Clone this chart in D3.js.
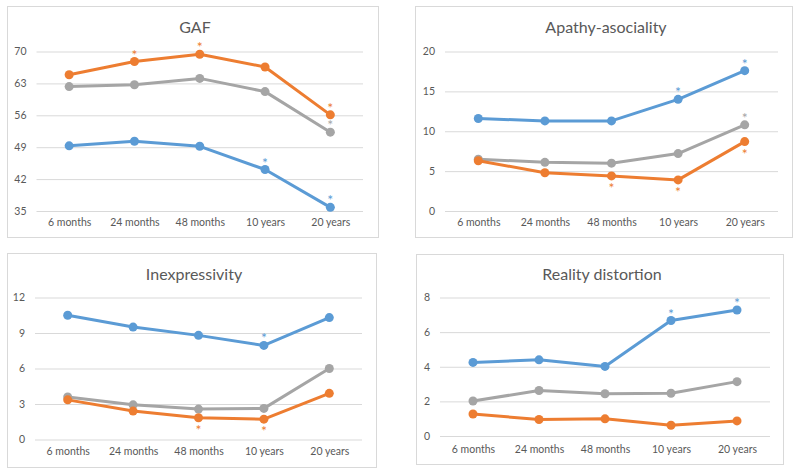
<!DOCTYPE html>
<html>
<head>
<meta charset="utf-8">
<script src="https://cdn.jsdelivr.net/npm/d3@7"></script>
<style>
  html, body { margin: 0; padding: 0; background: #fff; }
  svg { display: block; }
  text { font-family: Lato, "Open Sans", sans-serif; fill: #595959; }
</style>
</head>
<body>
<svg id="chart" width="800" height="475"></svg>
<script>
// ---------- DATA ----------
const categories = ["6 months", "24 months", "48 months", "10 years", "20 years"];

const gafTicks = [35, 42, 49, 56, 63, 70];
const gafBlue   = [49.3, 50.3, 49.2, 44.1, 35.8];
const gafGray   = [62.3, 62.7, 64.1, 61.2, 52.3];
const gafOrange = [64.9, 67.8, 69.4, 66.6, 56.1];
const gafBlueSig   = [0, 0, 0, 1, 1];
const gafGraySig   = [0, 0, 0, 0, 1];
const gafOrangeSig = [0, 1, 1, 0, 1];

const apathyTicks = [0, 5, 10, 15, 20];
const apathyBlue   = [11.6, 11.3, 11.3, 14.0, 17.6];
const apathyGray   = [6.5, 6.1, 6.0, 7.2, 10.8];
const apathyOrange = [6.3, 4.8, 4.4, 3.9, 8.7];
const apathyBlueSig   = [0, 0, 0, 1, 1];
const apathyGraySig   = [0, 0, 0, 0, 1];
const apathyOrangeSig = [0, 0, 1, 1, 1];

const inexTicks = [0, 3, 6, 9, 12];
const inexBlue   = [10.5, 9.5, 8.8, 7.95, 10.3];
const inexGray   = [3.6, 2.93, 2.57, 2.63, 6.0];
const inexOrange = [3.35, 2.4, 1.84, 1.72, 3.9];
const inexBlueSig   = [0, 0, 0, 1, 0];
const inexGraySig   = [0, 0, 0, 0, 0];
const inexOrangeSig = [0, 0, 1, 1, 0];

const realityTicks = [0, 2, 4, 6, 8];
const realityBlue   = [4.25, 4.4, 4.02, 6.67, 7.28];
const realityGray   = [2.02, 2.63, 2.44, 2.47, 3.14];
const realityOrange = [1.27, 0.95, 0.99, 0.62, 0.87];
const realityBlueSig   = [0, 0, 0, 1, 1];
const realityGraySig   = [0, 0, 0, 0, 0];
const realityOrangeSig = [0, 0, 0, 0, 0];

// ---------- LAYOUT / STYLE ----------
const colors = { blue: "#5B9BD5", gray: "#A5A5A5", orange: "#ED7D31" };

const panels = [
  { title: "GAF", ticks: gafTicks,
    box: { x: 7.5, y: 6.5, w: 371, h: 231 }, plot: { x0: 36.5, x1: 363, y0: 51.5, y1: 211 },
    titleY: 33, labelY: 228,
    series: [
      { key: "gray", values: gafGray, sig: gafGraySig, below: false },
      { key: "orange", values: gafOrange, sig: gafOrangeSig, below: false },
      { key: "blue", values: gafBlue, sig: gafBlueSig, below: false }
    ] },
  { title: "Apathy-asociality", ticks: apathyTicks,
    box: { x: 415.5, y: 6.5, w: 377, h: 231 }, plot: { x0: 445, x1: 778, y0: 51.5, y1: 211 },
    titleY: 33, labelY: 228,
    series: [
      { key: "gray", values: apathyGray, sig: apathyGraySig, below: false },
      { key: "orange", values: apathyOrange, sig: apathyOrangeSig, below: true },
      { key: "blue", values: apathyBlue, sig: apathyBlueSig, below: false }
    ] },
  { title: "Inexpressivity", ticks: inexTicks,
    box: { x: 7.5, y: 253.5, w: 369, h: 214 }, plot: { x0: 35, x1: 362, y0: 297.5, y1: 439.5 },
    titleY: 280, labelY: 457,
    series: [
      { key: "gray", values: inexGray, sig: inexGraySig, below: false },
      { key: "orange", values: inexOrange, sig: inexOrangeSig, below: true },
      { key: "blue", values: inexBlue, sig: inexBlueSig, below: false }
    ] },
  { title: "Reality distortion", ticks: realityTicks,
    box: { x: 416.5, y: 254.5, w: 367, h: 210 }, plot: { x0: 440, x1: 770, y0: 297.5, y1: 436 },
    titleY: 280, labelY: 455,
    series: [
      { key: "gray", values: realityGray, sig: realityGraySig, below: false },
      { key: "orange", values: realityOrange, sig: realityOrangeSig, below: false },
      { key: "blue", values: realityBlue, sig: realityBlueSig, below: false }
    ] }
];

const svg = d3.select("#chart");

panels.forEach(p => {
  const g = svg.append("g");

  g.append("rect")
    .attr("x", p.box.x).attr("y", p.box.y)
    .attr("width", p.box.w).attr("height", p.box.h)
    .attr("fill", "#fff").attr("stroke", "#D9D9D9").attr("stroke-width", 1);

  g.append("text")
    .attr("x", p.box.x + p.box.w / 2 + 2)
    .attr("y", p.titleY)
    .attr("text-anchor", "middle")
    .attr("font-size", "16px")
    .text(p.title);

  const x = d3.scalePoint().domain(categories)
    .range([p.plot.x0, p.plot.x1]).padding(0.5);
  const y = d3.scaleLinear()
    .domain([p.ticks[0], p.ticks[p.ticks.length - 1]])
    .range([p.plot.y1, p.plot.y0]);

  // Y axis (gridlines + labels)
  const yAxis = d3.axisLeft(y).tickValues(p.ticks)
    .tickSize(-(p.plot.x1 - p.plot.x0)).tickPadding(10);
  const ya = g.append("g").attr("transform", `translate(${p.plot.x0},0)`).call(yAxis);
  ya.select(".domain").remove();
  ya.selectAll(".tick line").attr("stroke", "#D9D9D9").attr("stroke-width", 1);
  ya.selectAll(".tick text").attr("font-size", "10.5px").attr("fill", "#595959")
    .style("font-family", "Lato, 'Open Sans', sans-serif");

  // X axis labels
  const xAxis = d3.axisBottom(x).tickSize(0).tickPadding(0);
  const xa = g.append("g").attr("transform", `translate(0,${p.labelY - 9})`).call(xAxis);
  xa.select(".domain").remove();
  xa.selectAll(".tick text").attr("font-size", "10.5px").attr("fill", "#595959")
    .attr("dy", "0.71em")
    .style("font-family", "Lato, 'Open Sans', sans-serif");

  const line = d3.line().x((d, i) => x(categories[i])).y(d => y(d));

  p.series.forEach(s => {
    const c = colors[s.key];
    g.append("path").datum(s.values)
      .attr("d", line).attr("fill", "none")
      .attr("stroke", c).attr("stroke-width", 3)
      .attr("stroke-linejoin", "round").attr("stroke-linecap", "round");
    g.selectAll(null).data(s.values).enter().append("circle")
      .attr("cx", (d, i) => x(categories[i])).attr("cy", d => y(d))
      .attr("r", 4.5).attr("fill", c);
    g.selectAll(null).data(s.values.map((v, i) => ({ v, i, sig: s.sig[i] })).filter(d => d.sig))
      .enter().append("text")
      .attr("x", d => x(categories[d.i]))
      .attr("y", d => y(d.v) + (s.below ? 17 : -2))
      .attr("text-anchor", "middle")
      .attr("font-size", "14px")
      .style("fill", c)
      .text("*");
  });
});
</script>
</body>
</html>
